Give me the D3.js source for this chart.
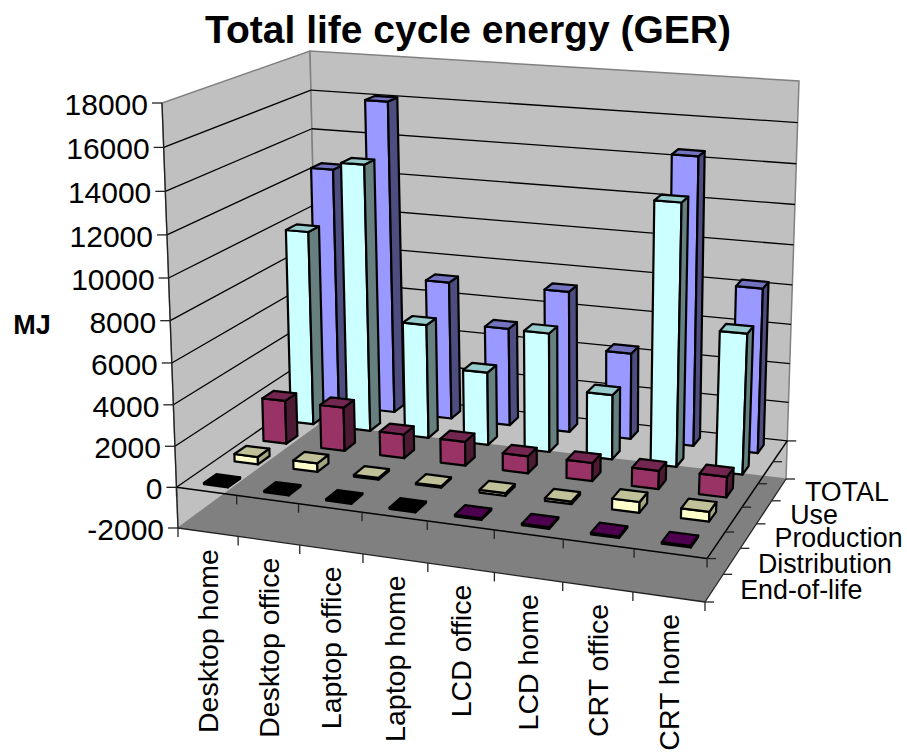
<!DOCTYPE html>
<html lang="en">
<head>
<meta charset="utf-8">
<title>Total life cycle energy (GER)</title>
<script src="https://d3js.org/d3.v7.min.js"></script>
<style>
  html, body { margin: 0; background: #fff; }
  text { font-family: "Liberation Sans", Arial, sans-serif; fill: #000; }
</style>
</head>
<body>
<div id="chart"></div>
<script>
// values in MJ
var categories = ["Desktop home", "Desktop office", "Laptop office", "Laptop home", "LCD office", "LCD home", "CRT office", "CRT home"];
var seriesNames = ["End-of-life", "Distribution", "Production", "Use", "TOTAL"];
var endOfLife = [-60, -60, -60, -60, 70, 70, 70, 70];
var distribution = [370, 430, 90, 70, 130, 130, 520, 470];
var production = [2200, 2200, 1200, 1200, 850, 900, 900, 1000];
var use = [9950, 13550, 5800, 3700, 6000, 3250, 12950, 6950];
var total = [12450, 16100, 7150, 5050, 7250, 4400, 14500, 8300];
var yTicks = [-2000, 0, 2000, 4000, 6000, 8000, 10000, 12000, 14000, 16000, 18000];

var seriesValues = [endOfLife, distribution, production, use, total];
var seriesColors = [
    {front: "#660066", side: "#330033", top: "#4d004d"},
    {front: "#ffffcc", side: "#a6a680", top: "#c0c099"},
    {front: "#993366", side: "#4d1a33", top: "#732650"},
    {front: "#ccffff", side: "#668080", top: "#99cccc"},
    {front: "#9999ff", side: "#4d4d80", top: "#7373bf"}
];

var w = 907, h = 756;
var svg = d3.select("#chart").append("svg").attr("width", w).attr("height", h);

// corners of the chart box on screen: front-left, front-right, back-right, back-left
var floorCorners = [[178, 528], [705, 602], [786, 479], [319, 425]];
var topCorners = [[162, 103], [726, 148], [799, 81], [310, 51]];

// maps the unit square onto a screen quad with perspective
function quadMap(q) {
    var dx1 = q[1][0] - q[2][0], dx2 = q[3][0] - q[2][0], dx3 = q[0][0] - q[1][0] + q[2][0] - q[3][0];
    var dy1 = q[1][1] - q[2][1], dy2 = q[3][1] - q[2][1], dy3 = q[0][1] - q[1][1] + q[2][1] - q[3][1];
    var den = dx1 * dy2 - dx2 * dy1;
    var g = (dx3 * dy2 - dx2 * dy3) / den, k = (dx1 * dy3 - dx3 * dy1) / den;
    var a = q[1][0] - q[0][0] + g * q[1][0], b = q[3][0] - q[0][0] + k * q[3][0];
    var d = q[1][1] - q[0][1] + g * q[1][1], e = q[3][1] - q[0][1] + k * q[3][1];
    return function(u, v) {
        var s = g * u + k * v + 1;
        return [(a * u + b * v + q[0][0]) / s, (d * u + e * v + q[0][1]) / s];
    };
}
var floorMap = quadMap(floorCorners), topMap = quadMap(topCorners);

var yScale = d3.scaleLinear().domain([-2000, 18000]).range([0, 1]);
var xScale = d3.scaleBand().domain(categories).range([0, 1]).paddingInner(0.6).paddingOuter(0.3);
var zScale = d3.scaleBand().domain(seriesNames).range([0, 1]).paddingInner(0.6).paddingOuter(0.3);

// u along the categories, v into the depth, value up
function project(u, v, value) {
    var a = floorMap(u, v), b = topMap(u, v), s = yScale(value);
    // the top of the box is nearer the camera, so steps grow a little going up
    var t = s / (s + 1.05 * (1 - s));
    return [a[0] + (b[0] - a[0]) * t, a[1] + (b[1] - a[1]) * t];
}
function poly(pts) { return "M" + pts.map(function(p) { return p[0].toFixed(1) + "," + p[1].toFixed(1); }).join("L") + "Z"; }
function line(g, p, q, color, width) {
    g.append("line").attr("x1", p[0]).attr("y1", p[1]).attr("x2", q[0]).attr("y2", q[1])
        .attr("stroke", color).attr("stroke-width", width);
}

// walls and floor
var box = svg.append("g");
box.append("path").attr("fill", "#c0c0c0").attr("stroke", "#808080").attr("stroke-width", 1.5)
    .attr("d", poly([project(0, 0, -2000), project(0, 1, -2000), project(0, 1, 18000), project(0, 0, 18000)]));
box.append("path").attr("fill", "#c0c0c0").attr("stroke", "#808080").attr("stroke-width", 1.5)
    .attr("d", poly([project(0, 1, -2000), project(1, 1, -2000), project(1, 1, 18000), project(0, 1, 18000)]));
box.append("path").attr("fill", "#808080")
    .attr("d", poly([project(0, 0, -2000), project(1, 0, -2000), project(1, 1, -2000), project(0, 1, -2000)]));

// gridlines on both walls
yTicks.filter(function(d) { return d >= 0 && d < 18000; }).forEach(function(d) {
    line(box, project(0, 0, d), project(0, 1, d), "#000", 1.3);
    line(box, project(0, 1, d), project(1, 1, d), "#000", 1.3);
});

// axis lines and ticks
var axes = svg.append("g");
line(axes, project(0, 0, -2000), project(0, 0, 18000), "#222", 1.3);
line(axes, project(0, 0, -2000), project(1, 0, -2000), "#222", 1.3);
line(axes, project(1, 0, -2000), project(1, 1, -2000), "#222", 1.3);
line(axes, project(0, 0, 0), project(1, 0, 0), "#000", 1.5);
line(axes, project(1, 0, 0), project(1, 1, 0), "#000", 1.5);

yTicks.forEach(function(d) {
    var p = project(0, 0, d);
    line(axes, [p[0] - 10, p[1]], p, "#222", 1.3);
    axes.append("text").attr("x", p[0] - 14).attr("y", p[1] + 1.5).attr("dy", "0.35em")
        .attr("text-anchor", "end").attr("font-size", 30).text(d);
});
d3.range(categories.length + 1).forEach(function(i) {
    var u = i / categories.length;
    [0, -2000].forEach(function(level) {
        var p = project(u, 0, level);
        line(axes, p, [p[0], p[1] + 9], "#222", 1.3);
    });
});
d3.range(seriesNames.length + 1).forEach(function(i) {
    var v = i / seriesNames.length;
    [0, -2000].forEach(function(level) {
        var p = project(1, v, level);
        line(axes, p, [p[0] + 9, p[1]], "#222", 1.3);
    });
});

// bars, painted from the back row forward and right to left
var bars = svg.append("g").attr("stroke", "#000").attr("stroke-width", 2.2).attr("stroke-linejoin", "round");
d3.range(seriesNames.length - 1, -1, -1).forEach(function(s) {
    var v0 = zScale(seriesNames[s]), v1 = v0 + zScale.bandwidth();
    d3.range(categories.length - 1, -1, -1).forEach(function(c) {
        var u0 = xScale(categories[c]), u1 = u0 + xScale.bandwidth();
        var value = seriesValues[s][c];
        var col = seriesColors[s];
        var lo = Math.min(0, value), hi = Math.max(0, value);
        var topFill = value < 0 ? "#000" : col.top;
        bars.append("path").attr("fill", col.front)
            .attr("d", poly([project(u0, v0, lo), project(u1, v0, lo), project(u1, v0, hi), project(u0, v0, hi)]));
        bars.append("path").attr("fill", col.side)
            .attr("d", poly([project(u1, v0, lo), project(u1, v1, lo), project(u1, v1, hi), project(u1, v0, hi)]));
        bars.append("path").attr("fill", topFill)
            .attr("d", poly([project(u0, v0, hi), project(u1, v0, hi), project(u1, v1, hi), project(u0, v1, hi)]));
    });
});

// labels
categories.forEach(function(name) {
    var p = project(xScale(name) + xScale.bandwidth() / 2, 0, -2000);
    svg.append("text").attr("text-anchor", "end").attr("dy", "0.35em").attr("font-size", 28.5)
        .attr("transform", "translate(" + p[0] + "," + (p[1] + 17) + ") rotate(-90)").text(name);
});
seriesNames.forEach(function(name) {
    var p = project(1, zScale(name) + zScale.bandwidth() / 2, -2000);
    svg.append("text").attr("x", p[0] + 26).attr("y", p[1] + 2).attr("dy", "0.35em").attr("font-size", 26.8).text(name);
});
svg.append("text").attr("x", 468).attr("y", 43).attr("text-anchor", "middle")
    .attr("font-size", 39).attr("font-weight", "bold").text("Total life cycle energy (GER)");
svg.append("text").attr("x", 32).attr("y", 334).attr("text-anchor", "middle")
    .attr("font-size", 27).attr("font-weight", "bold").text("MJ");
</script>
</body>
</html>
